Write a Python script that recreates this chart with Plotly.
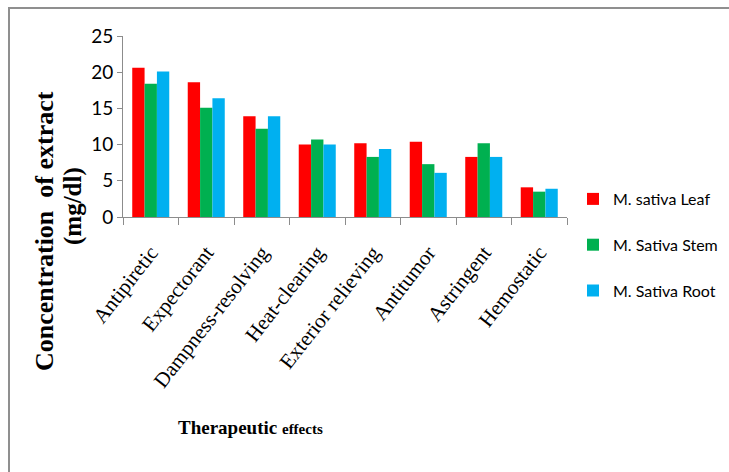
import plotly.graph_objects as go

# Therapeutic-effect categories and extract concentrations (mg/dl)
effects = ["Antipiretic", "Expectorant", "Dampness-resolving", "Heat-clearing",
           "Exterior relieving", "Antitumor", "Astringent", "Hemostatic"]
leaf = [20.6, 18.6, 13.9, 10.0, 10.2, 10.4, 8.3, 4.1]
stem = [18.4, 15.1, 12.2, 10.7, 8.3, 7.3, 10.2, 3.5]
root = [20.1, 16.4, 13.9, 10.0, 9.4, 6.1, 8.3, 3.9]

series = [
    ("M. sativa Leaf", leaf, "#FF0000"),
    ("M. Sativa Stem", stem, "#00B050"),
    ("M. Sativa Root", root, "#00B0F0"),
]

fig = go.Figure()
for i, (name, vals, color) in enumerate(series):
    fig.add_trace(go.Bar(
        x=effects, y=vals, name=name, marker_color=color,
        marker_line_width=0, legendgroup=f"g{i}",
    ))

axis_color = "#8C8C8C"
L, R, T, B = 123, 162, 36, 255
W, H = 729, 472
pw, ph = W - L - R, H - T - B


def px_x(x):
    return (x - L) / pw


def px_y(y):
    return (H - B - y) / ph


fig.update_layout(
    width=W, height=H,
    margin=dict(l=L, r=R, t=T, b=B, pad=0, autoexpand=False),
    paper_bgcolor="white", plot_bgcolor="white",
    barmode="group", bargap=0.333, bargroupgap=0,
    showlegend=True,
    legend=dict(
        x=px_x(573), y=px_y(182), xanchor="left", yanchor="top",
        font=dict(family="Lato", size=16, color="#000000"),
        tracegroupgap=22, bgcolor="rgba(0,0,0,0)", itemwidth=30,
    ),
    xaxis=dict(
        showline=True, linecolor=axis_color, linewidth=1,
        ticks="outside", ticklen=7, tickcolor=axis_color,
        tickson="boundaries", tickangle=-52, ticklabelstandoff=14,
        tickfont=dict(family="Liberation Serif", size=21, color="#000000"),
        showgrid=False, zeroline=False, automargin=False,
    ),
    yaxis=dict(
        range=[0, 25], dtick=5,
        showline=True, linecolor=axis_color, linewidth=1,
        ticks="outside", ticklen=5, tickcolor=axis_color,
        tickfont=dict(family="Lato", size=19, color="#000000"),
        showgrid=False, zeroline=False, automargin=False,
    ),
)

# y-axis title in two rotated lines
fig.add_annotation(
    text="<b>Concentration  of extract</b>", xref="paper", yref="paper",
    x=px_x(44), y=px_y(231), xanchor="center", yanchor="middle",
    textangle=-90, showarrow=False,
    font=dict(family="Liberation Serif", size=26, color="#000000"),
)
fig.add_annotation(
    text="<b>(mg/dl)</b>", xref="paper", yref="paper",
    x=px_x(73), y=px_y(206), xanchor="center", yanchor="middle",
    textangle=-90, showarrow=False,
    font=dict(family="Liberation Serif", size=25, color="#000000"),
)

# x-axis title
fig.add_annotation(
    text="<b>Therapeutic</b> <b><span style='font-size:15px'>effects</span></b>",
    xref="paper", yref="paper", x=px_x(250), y=px_y(427),
    xanchor="center", yanchor="middle", showarrow=False,
    font=dict(family="Liberation Serif", size=19, color="#000000"),
)

# chart frame (left and top edges)
fig.add_shape(
    type="path", xref="paper", yref="paper",
    path=f"M {px_x(9)} {px_y(480)} L {px_x(9)} {px_y(8)} L {px_x(740)} {px_y(8)}",
    line=dict(color="#8F8F8F", width=2),
)

fig.write_html("out.html")
